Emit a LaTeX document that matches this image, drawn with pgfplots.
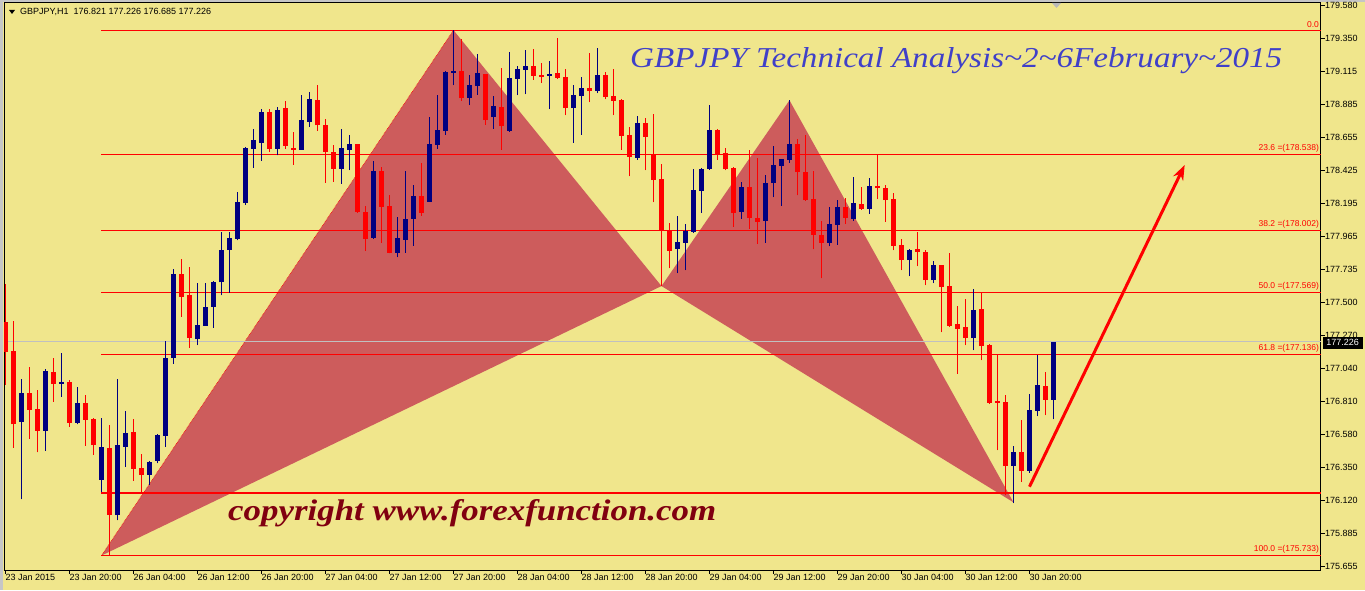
\documentclass[border=0pt]{standalone}
\usepackage{fontspec}
\setmainfont{Liberation Sans}
\newfontfamily\calfont{Liberation Serif}
\usepackage{graphicx}
\usepackage{pgfplots}
\pgfplotsset{compat=1.18}
\usepackage{pgfplotstable}
\usetikzlibrary{arrows.meta}
\definecolor{khaki}{RGB}{240,230,140}
\definecolor{ired}{RGB}{205,92,92}
\definecolor{navyc}{RGB}{0,0,128}
\definecolor{pureRed}{RGB}{255,0,0}
\definecolor{titleblue}{RGB}{64,64,200}
\definecolor{maroonc}{RGB}{128,0,16}
\definecolor{pricegray}{RGB}{192,192,192}

\pgfplotstableread{
x o h l c
2 176.668 176.967 176.126 176.867
5 176.605 177.036 176.465 177.023
7 176.934 177.146 176.843 176.946
9 176.661 176.911 176.650 176.799
12 176.263 176.694 176.177 176.491
14 176.016 176.967 175.979 176.505
15 176.493 176.743 176.354 176.589
18 176.296 176.396 176.226 176.386
19 176.396 176.584 176.377 176.575
20 176.570 177.232 176.493 177.113
21 177.115 177.735 177.073 177.700
24 177.244 177.637 177.204 177.344
25 177.339 177.637 177.339 177.470
26 177.472 177.653 177.325 177.647
27 177.642 177.996 177.551 177.868
28 177.870 177.996 177.570 177.952
29 177.947 178.273 177.936 178.203
30 178.196 178.590 178.185 178.581
31 178.576 178.714 178.443 178.637
32 178.618 178.855 178.492 178.832
34 178.576 178.869 178.530 178.846
37 178.569 178.951 178.569 178.776
38 178.765 178.970 178.730 178.923
42 178.436 178.714 178.331 178.581
43 178.567 178.670 178.427 178.609
46 177.952 178.490 177.947 178.420
49 177.849 178.099 177.819 177.952
50 177.940 178.420 177.849 178.085
51 178.085 178.322 177.898 178.245
53 178.206 178.797 178.206 178.609
54 178.602 178.951 178.574 178.707
55 178.700 179.121 178.672 179.114
56 179.105 179.404 179.021 179.119
58 178.932 179.091 178.881 179.021
59 179.016 179.238 178.953 179.105
61 178.797 178.944 178.714 178.874
63 178.700 179.252 178.693 179.070
64 179.063 179.154 178.951 179.133
65 179.126 179.266 178.958 179.154
68 179.086 179.189 178.853 179.098
71 178.860 179.021 178.616 178.951
72 178.944 179.077 178.672 179.000
74 178.979 179.280 178.965 179.091
79 178.511 178.804 178.497 178.756
84 177.875 178.106 177.707 177.924
85 177.917 178.050 177.728 178.001
86 177.994 178.434 177.987 178.287
87 178.280 178.441 178.127 178.434
88 178.434 178.881 178.430 178.707
92 178.134 178.343 178.085 178.308
95 178.071 178.392 177.917 178.336
96 178.336 178.595 178.238 178.462
97 178.455 178.506 178.176 178.504
98 178.497 178.914 178.476 178.609
103 177.917 178.169 177.896 178.050
104 178.043 178.217 177.903 178.169
106 178.085 178.378 178.071 178.196
108 178.155 178.371 178.120 178.315
113 177.798 177.872 177.686 177.868
116 177.658 177.791 177.637 177.763
121 177.253 177.595 177.169 177.449
126 176.358 176.498 176.100 176.456
128 176.324 176.862 176.310 176.750
129 176.743 177.134 176.708 176.925
131 176.821 177.226 176.685 177.226
}\uptable

\pgfplotstableread{
x o h l c
0 177.363 177.630 176.925 177.157
1 177.162 177.372 176.487 176.650
3 176.867 177.048 176.549 176.752
4 176.755 176.890 176.454 176.605
6 177.013 177.113 176.808 176.934
8 176.946 176.958 176.633 176.661
10 176.799 176.855 176.500 176.682
11 176.685 176.696 176.437 176.505
13 176.484 176.645 175.733 176.018
16 176.596 176.685 176.256 176.340
17 176.345 176.442 176.168 176.296
22 177.700 177.805 177.402 177.542
23 177.554 177.749 177.185 177.255
33 178.832 178.853 178.555 178.576
35 178.860 178.911 178.576 178.595
36 178.581 178.693 178.464 178.569
39 178.916 179.021 178.702 178.739
40 178.742 178.783 178.338 178.555
41 178.553 178.602 178.345 178.436
44 178.609 178.612 178.130 178.136
45 178.134 178.173 177.863 177.947
47 178.420 178.448 177.919 178.169
48 178.176 178.252 177.845 177.849
52 178.245 178.474 178.108 178.129
57 179.119 179.345 178.911 178.930
60 179.098 179.100 178.742 178.776
62 178.867 179.140 178.569 178.734
66 179.154 179.273 179.056 179.086
67 179.091 179.175 179.035 179.077
69 179.105 179.349 179.063 179.070
70 179.077 179.133 178.811 178.860
73 179.000 179.245 178.902 178.979
75 179.091 179.112 178.923 178.937
76 178.944 179.133 178.811 178.909
77 178.916 178.920 178.567 178.665
78 178.672 178.728 178.385 178.518
80 178.756 178.790 178.427 178.658
81 178.539 178.818 178.203 178.357
82 178.364 178.469 177.616 178.001
83 178.008 178.057 177.742 177.861
89 178.707 178.714 178.497 178.539
90 178.546 178.581 178.427 178.434
91 178.441 178.445 178.029 178.127
93 178.308 178.567 178.015 178.092
94 178.092 178.511 177.910 178.064
99 178.609 178.644 178.252 178.413
100 178.413 178.672 178.213 178.217
101 178.224 178.420 177.875 177.973
102 177.973 178.071 177.672 177.917
105 178.169 178.231 178.050 178.092
107 178.189 178.308 178.148 178.155
109 178.315 178.539 178.224 178.301
110 178.301 178.322 178.064 178.217
111 178.224 178.266 177.868 177.896
112 177.903 177.945 177.728 177.798
114 177.875 177.994 177.756 177.854
115 177.854 177.868 177.623 177.658
117 177.763 177.766 177.295 177.609
118 177.616 177.847 177.333 177.337
119 177.351 177.477 177.002 177.316
120 177.330 177.526 177.204 177.253
122 177.456 177.568 177.099 177.197
123 177.204 177.208 176.792 176.799
124 176.813 177.134 176.470 176.799
125 176.806 176.855 176.156 176.358
127 176.456 176.680 176.247 176.324
130 176.918 177.016 176.715 176.821
}\downtable

\begin{document}
\begin{tikzpicture}[x=1pt,y=1pt]
\fill[khaki] (0,0) rectangle (1365,590);
\fill[gray!45] (0,0) rectangle (2.5,590);
\fill[gray!45] (0,587.5) rectangle (1365,590);
\begin{axis}[
  at={(4pt,20pt)}, anchor=south west,
  scale only axis, width=1317pt, height=567pt,
  xmin=-0.1875, xmax=164.44, ymin=175.632, ymax=179.594,
  enlargelimits=false,
  axis line style={black, line width=1pt},
  xtick={0,8,16,24,32,40,48,56,64,72,80,88,96,104,112,120,128},
  xticklabels={23 Jan 2015,23 Jan 20:00,26 Jan 04:00,26 Jan 12:00,26 Jan 20:00,27 Jan 04:00,27 Jan 12:00,27 Jan 20:00,28 Jan 04:00,28 Jan 12:00,28 Jan 20:00,29 Jan 04:00,29 Jan 12:00,29 Jan 20:00,30 Jan 04:00,30 Jan 12:00,30 Jan 20:00},
  xtick pos=left, ytick pos=right,
  xticklabel pos=left, yticklabel pos=right,
  tick align=outside,
  major tick length=4pt,
  tick style={black, line width=0.8pt},
  ytick={175.655,175.885,176.120,176.350,176.580,176.810,177.040,177.270,177.500,177.735,177.965,178.195,178.425,178.655,178.885,179.115,179.350,179.580},
  scaled y ticks=false,
  yticklabel style={font=\fontsize{9}{9}\selectfont, anchor=west, inner sep=0pt, /pgf/number format/.cd, fixed, fixed zerofill, precision=3, 1000 sep={}, assume math mode=true},
  xticklabel style={font=\fontsize{9}{9}\selectfont, anchor=north west, inner sep=0pt},
  candle/.style={only marks, mark=*, mark size=0pt, mark options={draw=none, fill=none},
    error bars/.cd, y dir=plus, y explicit, error mark=none},
]
% harmonic pattern triangles
\addplot[fill=ired, draw=none] coordinates {(12,175.733) (56,179.404) (82,177.616)} -- cycle;
\addplot[fill=ired, draw=none] coordinates {(82,177.616) (98,178.914) (126,176.105)} -- cycle;
\addplot[pureRed, densely dotted, line width=0.6pt] coordinates {(12,175.733) (56,179.404)};
% fibonacci levels
\addplot[pureRed, line width=1.1pt] coordinates {(12,179.4045) (166,179.4045)};
\addplot[pureRed, line width=1.1pt] coordinates {(12,178.538) (166,178.538)};
\addplot[pureRed, line width=1.1pt] coordinates {(12,178.002) (166,178.002)};
\addplot[pureRed, line width=1.1pt] coordinates {(12,177.569) (166,177.569)};
\addplot[pureRed, line width=1.1pt] coordinates {(12,177.136) (166,177.136)};
\addplot[pureRed, line width=1.1pt] coordinates {(12,176.170) (166,176.170)};
\addplot[pureRed, line width=1.1pt] coordinates {(12,175.733) (166,175.733)};
% current price line
\addplot[pricegray, line width=1pt] coordinates {(-1,177.226) (166,177.226)};
% candles: wicks and bodies
\addplot[candle, error bar style={navyc, line width=1pt}] table[x=x, y=l, y error plus expr=\thisrow{h}-\thisrow{l}] {\uptable};
\addplot[candle, error bar style={navyc, line width=5pt}] table[x=x, y=o, y error plus expr=\thisrow{c}-\thisrow{o}] {\uptable};
\addplot[candle, error bar style={pureRed, line width=1pt}] table[x=x, y=l, y error plus expr=\thisrow{h}-\thisrow{l}] {\downtable};
\addplot[candle, error bar style={pureRed, line width=5pt}] table[x=x, y=c, y error plus expr=\thisrow{o}-\thisrow{c}] {\downtable};
% arrow
\addplot[pureRed, line width=3pt, -{Stealth[length=15pt,width=11pt]}] coordinates {(128,176.214) (147.4,178.462)};
% fib labels
\begin{scope}[every node/.style={anchor=south east, inner sep=0pt, text=pureRed, font=\fontsize{8.5}{8.5}\selectfont, yshift=2pt}]
\node at (axis cs:164.2,179.4045) {0.0};
\node at (axis cs:164.2,178.538) {23.6 =(178.538)};
\node at (axis cs:164.2,178.002) {38.2 =(178.002)};
\node at (axis cs:164.2,177.569) {50.0 =(177.569)};
\node at (axis cs:164.2,177.136) {61.8 =(177.136)};
\node at (axis cs:164.2,175.733) {100.0 =(175.733)};
\end{scope}
\end{axis}
% price box
\fill[black] (1322.5,241.5) rectangle (1363,253.5);
\node[text=white, font=\fontsize{9}{9}\selectfont, inner sep=0pt] at (1342.5,247.5) {177.226};
% top-left info
\fill[black] (9,580) -- (15,580) -- (12,576) -- cycle;
\node[anchor=west, inner sep=0pt, font=\fontsize{9}{9}\selectfont] at (20,578) {GBPJPY,H1\ \ 176.821 177.226 176.685 177.226};
% shift marker
\fill[gray!55] (1052,587) -- (1061,587) -- (1056.5,582) -- cycle;
% title and copyright
\node[anchor=base west, inner sep=0pt, text=titleblue] at (630,522) {\resizebox{652pt}{20pt}{\calfont\itshape GBPJPY Technical Analysis\textasciitilde 2\textasciitilde 6February\textasciitilde 2015}};
\node[anchor=base west, inner sep=0pt, text=maroonc] at (228,70) {\resizebox{488pt}{21pt}{\calfont\itshape\bfseries copyright www.forexfunction.com}};
\pgfresetboundingbox
\useasboundingbox (0,0) rectangle (1365,590);
\end{tikzpicture}
\end{document}
